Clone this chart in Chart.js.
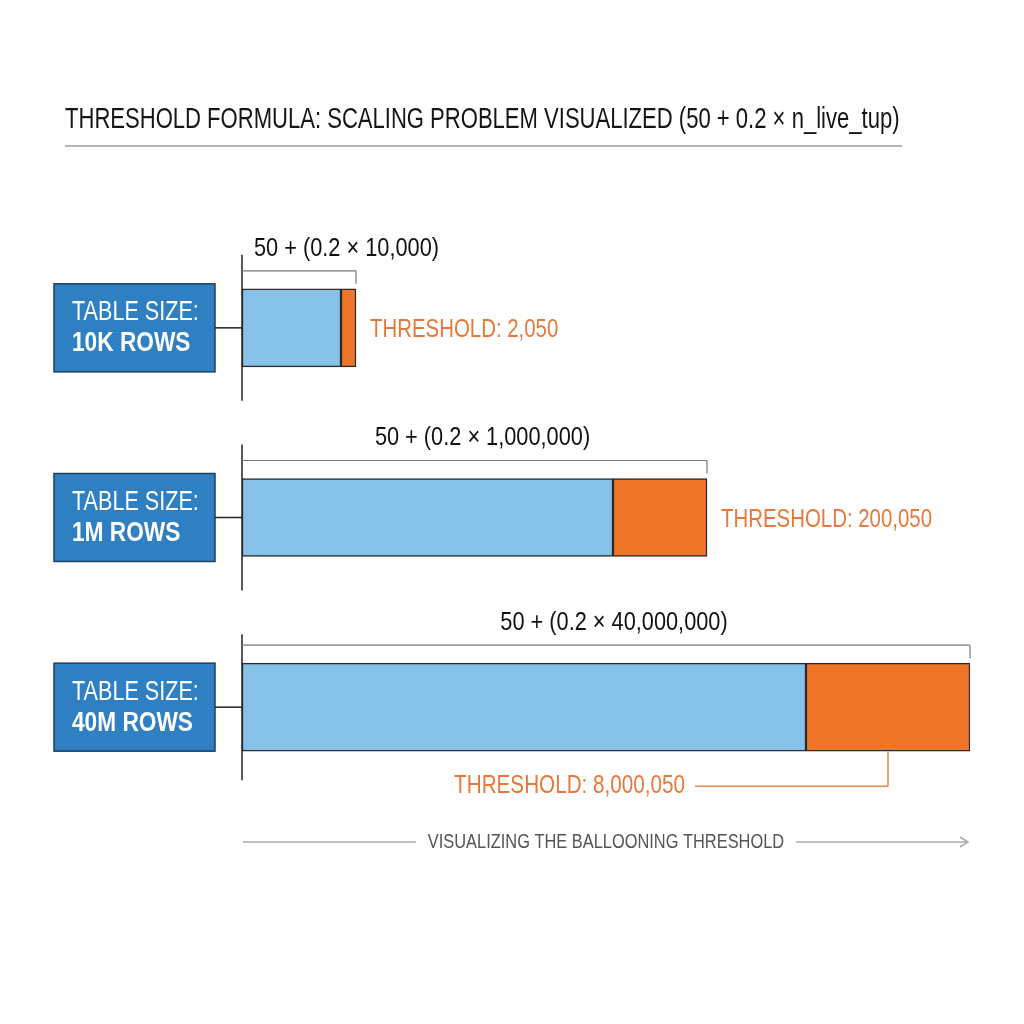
<!DOCTYPE html>
<html lang="en">
<head>
<meta charset="UTF-8">
<title>Threshold formula</title>
<script src="https://cdn.jsdelivr.net/npm/chart.js"></script>
<style>
  body{margin:0;background:#fff;}
  #wrap{width:1024px;height:1024px;position:relative;}
</style>
</head>
<body>
<div id="wrap"><canvas id="myChart"></canvas></div>
<script>
// data
const titleText = 'THRESHOLD FORMULA: SCALING PROBLEM VISUALIZED (50 + 0.2 \u00d7 n_live_tup)';
const tableSizes = ['10K ROWS', '1M ROWS', '40M ROWS'];
const formulaLabels = ['50 + (0.2 \u00d7 10,000)', '50 + (0.2 \u00d7 1,000,000)', '50 + (0.2 \u00d7 40,000,000)'];
const thresholdLabels = ['THRESHOLD: 2,050', 'THRESHOLD: 200,050', 'THRESHOLD: 8,000,050'];
const footText = 'VISUALIZING THE BALLOONING THRESHOLD';
// bar lengths (drawing units, the picture is not to scale)
const baseLen = [99, 371, 564];
const threshLen = [15, 94, 164];
const axisMax = 728;

// styles
const blue = '#86c1e7', orange = '#ef7529', boxBlue = '#2e80c3', orangeText = '#e8783a';
const barH = [78, 78, 88];
const FONT = '"Liberation Sans", Arial, sans-serif';

function txt(ctx, str, x, y, size, o) {
  o = o || {};
  const sx = o.sx || 0.8;
  ctx.save();
  ctx.font = (o.bold ? 'bold ' : '') + size + 'px ' + FONT;
  ctx.fillStyle = o.color || '#111';
  ctx.textBaseline = 'middle';
  ctx.textAlign = 'left';
  const w = ctx.measureText(str).width * sx;
  let left = x;
  if (o.align === 'center') left = x - w / 2;
  if (o.align === 'right') left = x - w;
  ctx.translate(left, y);
  ctx.scale(sx, 1);
  ctx.fillText(str, 0, 0);
  ctx.restore();
  return w;
}
function measure(ctx, str, size, o) {
  o = o || {};
  ctx.save();
  ctx.font = (o.bold ? 'bold ' : '') + size + 'px ' + FONT;
  const w = ctx.measureText(str).width * (o.sx || 0.8);
  ctx.restore();
  return w;
}
function line(ctx, x1, y1, x2, y2, color, lw) {
  ctx.save();
  ctx.strokeStyle = color;
  ctx.lineWidth = lw || 1.5;
  ctx.beginPath();
  ctx.moveTo(x1, y1);
  ctx.lineTo(x2, y2);
  ctx.stroke();
  ctx.restore();
}

const extras = {
  id: 'extras',
  afterDatasetsDraw(chart) {
    const ctx = chart.ctx;
    const xs = chart.scales.x, ys = chart.scales.y;
    const x0 = xs.getPixelForValue(0);
    const xEnd = xs.getPixelForValue(axisMax);

    txt(ctx, titleText, 65, 120, 30, {color: '#151515', sx: 0.735});
    line(ctx, 65, 146, 902, 146, '#9c9c9c', 1.5);

    tableSizes.forEach(function(name, i) {
      const cy = ys.getPixelForValue(i);
      const top = cy - barH[i] / 2, bot = cy + barH[i] / 2;
      const endB = xs.getPixelForValue(baseLen[i]);
      const end = xs.getPixelForValue(baseLen[i] + threshLen[i]);

      // label box
      ctx.save();
      ctx.fillStyle = boxBlue;
      ctx.fillRect(54, cy - 44, 161, 88);
      ctx.strokeStyle = '#1d3f5e';
      ctx.lineWidth = 1.5;
      ctx.strokeRect(54, cy - 44, 161, 88);
      ctx.restore();
      txt(ctx, 'TABLE SIZE:', 72, cy - 15, 27, {color: '#fff'});
      txt(ctx, name, 72, cy + 16, 27, {color: '#fff', bold: true, sx: 0.84});

      line(ctx, 215, cy, x0, cy, '#222', 1.5);
      line(ctx, x0, cy - 73, x0, cy + 73, '#222', 1.5);

      // bracket + formula
      const by = top - 18;
      line(ctx, x0, by, end, by, '#777', 1.2);
      line(ctx, end, by, end, top - 5, '#777', 1.2);
      const fopt = {color: '#111', sx: 0.87};
      const fw = measure(ctx, formulaLabels[i], 25, fopt);
      let fx = (x0 + end) / 2 - fw / 2 + 8;
      if (fx < x0 + 12) fx = x0 + 12;
      txt(ctx, formulaLabels[i], fx, by - 22, 25, fopt);

      // threshold label
      if (i < tableSizes.length - 1) {
        txt(ctx, thresholdLabels[i], end + 14, cy + 2, 26, {color: orangeText, sx: 0.785});
      } else {
        const mid = (endB + end) / 2;
        const ty = bot + 35;
        txt(ctx, thresholdLabels[i], mid - 203, ty, 26, {color: orangeText, align: 'right', sx: 0.795});
        line(ctx, mid - 193, ty, mid, ty, '#e8874a', 1.5);
        line(ctx, mid, ty, mid, bot, '#e8874a', 1.5);
      }
    });

    // footer arrow
    const fy = 842;
    const cx = (x0 + xEnd) / 2;
    const tw = txt(ctx, footText, cx, fy, 20, {color: '#555', align: 'center', sx: 0.82});
    line(ctx, x0 + 1, fy, cx - tw / 2 - 12, fy, '#aaa', 1.5);
    line(ctx, cx + tw / 2 + 12, fy, xEnd - 2, fy, '#aaa', 1.5);
    ctx.save();
    ctx.strokeStyle = '#aaa';
    ctx.lineWidth = 1.5;
    ctx.beginPath();
    ctx.moveTo(xEnd - 10, fy - 5);
    ctx.lineTo(xEnd - 2, fy);
    ctx.lineTo(xEnd - 10, fy + 5);
    ctx.stroke();
    ctx.restore();
  }
};

// one pair of datasets per row so each row can have its own thickness
const datasets = [];
tableSizes.forEach(function(name, i) {
  datasets.push({
    label: 'base ' + name,
    data: tableSizes.map(function(_, j) { return j === i ? baseLen[i] : null; }),
    backgroundColor: blue,
    borderColor: '#2a2a2a',
    borderWidth: 1.5,
    borderSkipped: false,
    barThickness: barH[i],
    stack: 'rows'
  });
  datasets.push({
    label: 'threshold ' + name,
    data: tableSizes.map(function(_, j) { return j === i ? threshLen[i] : null; }),
    backgroundColor: orange,
    borderColor: '#2a2a2a',
    borderWidth: 1.5,
    borderSkipped: false,
    barThickness: barH[i],
    stack: 'rows'
  });
});

new Chart(document.getElementById('myChart'), {
  type: 'bar',
  data: { labels: tableSizes, datasets: datasets },
  options: {
    indexAxis: 'y',
    responsive: true,
    maintainAspectRatio: false,
    animation: false,
    layout: { padding: { left: 242, right: 54, top: 233, bottom: 222 } },
    plugins: { legend: { display: false }, tooltip: { enabled: false } },
    scales: {
      x: { display: false, stacked: true, min: 0, max: axisMax },
      y: { display: false, stacked: true }
    }
  },
  plugins: [extras]
});
</script>
</body>
</html>
